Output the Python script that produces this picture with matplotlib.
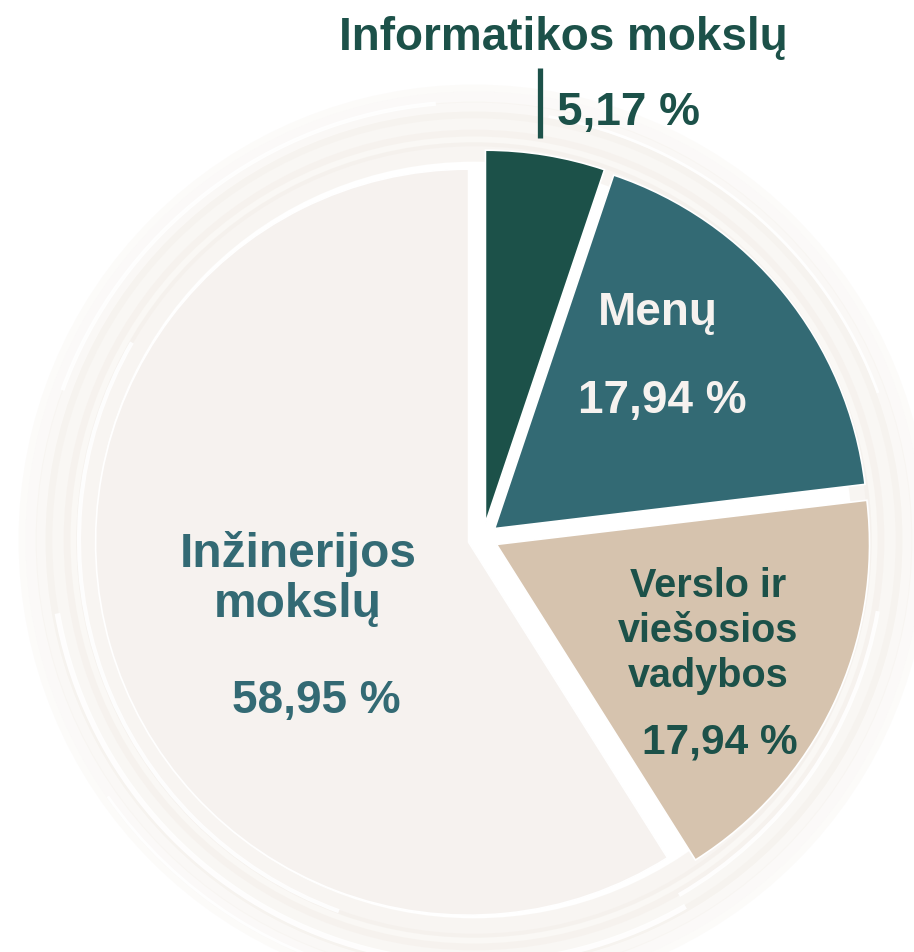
import numpy as np
import matplotlib
matplotlib.use('Agg')
import matplotlib.pyplot as plt
from matplotlib.patches import Circle, Arc

# duomenys
categories = ['Informatikos mokslų', 'Menų', 'Verslo ir\nviešosios\nvadybos', 'Inžinerijos\nmokslų']
shares = [5.17, 17.94, 17.94, 58.95]
pct_labels = ['5,17 %', '17,94 %', '17,94 %', '58,95 %']

slice_colors = ['#1c5149', '#336a74', '#d6c3ae', '#f6f2ef']
dark = '#1c5149'
teal = '#336a74'
light_txt = '#f6f2ef'

W, H = 914, 952
plt.rcParams['font.family'] = ['Liberation Sans', 'DejaVu Sans']
plt.rcParams['font.weight'] = 'bold'

fig = plt.figure(figsize=(W / 100, H / 100), dpi=100)
fig.patch.set_facecolor('white')
ax = fig.add_axes([0, 0, 1, 1])


def py(y):
    # pikseliai nuo virsaus -> duomenu y
    return H - y


# fono "teptuko" ziedas
cx, cy = 474, py(540)
for r, lw, a in [(388, 14, 0.45), (402, 12, 0.35), (416, 18, 0.40), (430, 12, 0.30),
                 (443, 8, 0.25), (452, 5, 0.20)]:
    ax.add_patch(Circle((cx, cy), r, fill=False, lw=lw, ec='#f1ebe4', alpha=a, zorder=0))
for r, t1, t2, lw in [(395, 150, 250, 3), (423, 190, 300, 4), (438, 95, 160, 3),
                      (410, 300, 350, 3), (430, 20, 80, 2), (447, 215, 260, 2)]:
    ax.add_patch(Arc((cx, cy), 2 * r, 2 * r, theta1=t1, theta2=t2, lw=lw,
                     color='white', alpha=0.9, zorder=0.5))

wedges, _ = ax.pie(shares, colors=slice_colors, startangle=90, counterclock=False,
                   center=(483, py(538)), radius=373, explode=[15] * 4,
                   wedgeprops=dict(edgecolor='white', linewidth=1.2))
for w in wedges:
    w.set_zorder(2)

ax.set_xlim(0, W)
ax.set_ylim(0, H)
ax.set_aspect('equal')
ax.axis('off')


def lines(x, baselines, txt, size, color):
    for b, t in zip(baselines, txt.split('\n')):
        ax.text(x, py(b), t, ha='center', va='baseline', fontsize=size,
                color=color, fontweight='bold', zorder=5)


# Informatikos mokslu (virsuje)
lines(563, [50], categories[0], 33, dark)
ax.plot([540, 540], [py(68), py(138)], color=dark, lw=3.8, solid_capstyle='butt', zorder=5)
ax.text(557, py(125), pct_labels[0], ha='left', va='baseline', fontsize=33,
        color=dark, fontweight='bold', zorder=5)

# Menu
lines(658, [325], categories[1], 33, light_txt)
lines(662, [413], pct_labels[1], 33, light_txt)

# Verslo ir viesosios vadybos
lines(708, [597, 642, 687], categories[2], 28.5, dark)
lines(720, [753], pct_labels[2], 30.5, dark)

# Inzinerijos mokslu
lines(298, [567, 617], categories[3], 34.5, teal)
lines(316, [713], pct_labels[3], 33, teal)

fig.savefig('out.png', dpi=100, facecolor='white')
